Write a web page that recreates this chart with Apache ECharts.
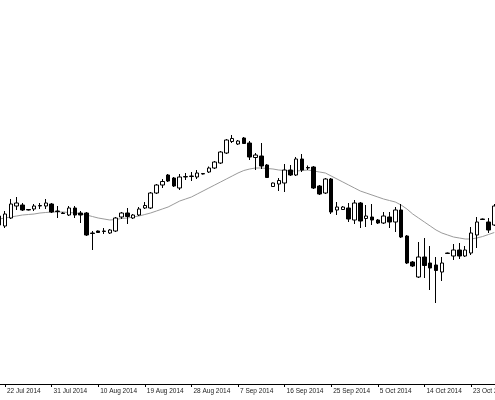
<!DOCTYPE html>
<html>
<head>
<meta charset="utf-8">
<script src="https://cdn.jsdelivr.net/npm/echarts@6/dist/echarts.min.js"></script>
<style>
html,body{margin:0;padding:0;background:#fff;}
#chart{width:495px;height:400px;}
</style>
</head>
<body>
<div id="chart"></div>
<script>
// Dates (trading bars incl. Sundays; first bar partially visible)
var dates = [
"21 Jul 2014","22 Jul 2014","23 Jul 2014","24 Jul 2014","25 Jul 2014","27 Jul 2014","28 Jul 2014","29 Jul 2014","30 Jul 2014","31 Jul 2014",
"1 Aug 2014","3 Aug 2014","4 Aug 2014","5 Aug 2014","6 Aug 2014","7 Aug 2014","8 Aug 2014","10 Aug 2014","11 Aug 2014","12 Aug 2014",
"13 Aug 2014","14 Aug 2014","15 Aug 2014","17 Aug 2014","18 Aug 2014","19 Aug 2014","20 Aug 2014","21 Aug 2014","22 Aug 2014","24 Aug 2014",
"25 Aug 2014","26 Aug 2014","27 Aug 2014","28 Aug 2014","29 Aug 2014","31 Aug 2014","1 Sep 2014","2 Sep 2014","3 Sep 2014","4 Sep 2014",
"5 Sep 2014","7 Sep 2014","8 Sep 2014","9 Sep 2014","10 Sep 2014","11 Sep 2014","12 Sep 2014","14 Sep 2014","15 Sep 2014","16 Sep 2014",
"17 Sep 2014","18 Sep 2014","19 Sep 2014","21 Sep 2014","22 Sep 2014","23 Sep 2014","24 Sep 2014","25 Sep 2014","26 Sep 2014","28 Sep 2014",
"29 Sep 2014","30 Sep 2014","1 Oct 2014","2 Oct 2014","3 Oct 2014","5 Oct 2014","6 Oct 2014","7 Oct 2014","8 Oct 2014","9 Oct 2014",
"10 Oct 2014","12 Oct 2014","13 Oct 2014","14 Oct 2014","15 Oct 2014","16 Oct 2014","17 Oct 2014","19 Oct 2014","20 Oct 2014","21 Oct 2014",
"22 Oct 2014","23 Oct 2014","24 Oct 2014","26 Oct 2014","27 Oct 2014","28 Oct 2014"
];

var opens = [
284,279,283,289,289.5,287.25,287.5,289,289,290,
286.5,285.5,284.5,288,285.5,285.5,275.5,276.5,276.25,275.5,
276.5,283.5,285.5,283,284.5,288,288,295.5,299.5,304.5,
303,298,303.5,303.75,303.5,305,306,308,310.5,315.5,
321.25,320,323,320.5,313.25,314,309.5,298.75,300,300.5,
307,304.5,312.5,308.25,308.5,299,295.5,302.5,287,287.25,
288,282,290.5,282.75,283.5,282,280.5,283.5,281,287,
274,261,253.5,263.5,260.5,259.5,256,265.25,264,267,
264,265.5,274.5,282.5,281,279.5
];
var closes = [
279.5,285,290,290.5,287,287,289,289.25,290.5,286,
286.25,285.25,288,284.5,284.5,274.5,275.25,275.75,276.5,277,
283,285.5,283.75,284.5,287.5,289.25,295.5,299.5,301.25,301.5,
299,303.5,303.75,304,305.5,305.25,308,311,316,322,
322.75,321.5,320.25,313.5,314.5,309,303.25,300.5,301.75,307,
304.5,312.5,307,308,298,295,302.5,286,288.5,288.5,
282.5,290.5,281.5,284,282,280.5,284,281,287,273.5,
260.5,259,263.5,259.25,258,256.75,260.5,265.5,267,264,
267,275.5,281,282.25,277,289
];
var lows = [
278,278,282.5,287,286.5,286.75,286.5,287.5,287.5,285.5,
283,285,284,283,280.5,274,267,275.5,275,275,
276,282.5,280,282.5,284,287.5,287.5,295,298,301,
298.5,297,302,301.5,302.5,304.75,305.5,307.5,310,315,
320.5,319.5,320,312,307,307.5,303,298.5,296.5,296,
304,304,306,307,297.5,294.5,295,285,284.5,287,
281,280,278,278.5,279.5,280,280,278,276,273,
260,258.5,253,253,247,240.5,251.5,265,262,262.5,
263.5,264.5,268,282,275.5,279
];
var highs = [
285.5,286.5,292.5,293.5,290.5,287.5,290,290.5,292.5,290.5,
289,286,289,289,286.5,286,276.5,276.75,278,277.5,
283.5,286,288,285,288.5,291,296,300,302.5,305,
303.5,305,305.5,306,307,305.5,308.75,311.5,316.5,322.5,
324.5,322,323.5,321.5,315.5,320.5,310,300.75,303,310,
309.5,313.5,315,309.25,309,299.5,303,303,291,289,
290.5,292,291,289.5,290,282.5,286,286,288.5,290,
274.5,261.5,271,273,269,263.5,263.5,265.75,270,270.5,
269,278.5,283.5,282.75,283,290
];
// moving average line
var maValues = [
282.5,283,283.5,284,284.5,284.75,285,285.5,285.75,286,
286,286,285.75,285.5,285.25,284.5,283.75,283,282.5,282,
282.25,282.75,283,283.5,284,284.75,285.5,286.5,287.5,288.5,
290,291.5,292.5,293.5,295,296.5,298,299.5,301,302.5,
304,305.5,306.75,307.5,308,308,307.75,307.5,307,306.75,
306.5,306.5,306.75,307,306.5,306,305.5,304,302.5,301,
299.5,298,296.5,295.5,294.5,293.5,292.5,291.75,291,289.5,
287.5,285,283,281,279,277,275.5,274.5,273.5,273,
272.5,272.5,273,273.75,274.75,275.75
];

var candles = dates.map(function(d, i){
  return [opens[i], closes[i], lows[i], highs[i]];
});

var labelEvery = function(index){ return (index - 1) % 8 === 0; };

var chart = echarts.init(document.getElementById('chart'), null, {renderer:'canvas'});
chart.setOption({
  animation: false,
  backgroundColor: '#ffffff',
  grid: {left: -3.74, width: 500.95, top: 0, bottom: 16, containLabel: false, outerBoundsMode: 'none'},
  xAxis: {
    type: 'category',
    data: dates,
    boundaryGap: true,
    axisLine: {show: true, lineStyle: {color: '#000', width: 1}},
    axisTick: {show: true, alignWithLabel: true, interval: labelEvery, length: 3, lineStyle: {color: '#000'}},
    axisLabel: {interval: labelEvery, align: 'left', margin: 4, padding: [0,0,0,2],
      fontSize: 6.5, fontFamily: 'Liberation Sans', color: '#222', hideOverlap: false},
    splitLine: {show: false}
  },
  yAxis: {
    type: 'value', min: 200, max: 392, show: false, scale: true,
    splitLine: {show: false}
  },
  series: [
    {
      type: 'line',
      data: maValues,
      symbol: 'none',
      lineStyle: {color: '#9a9a9a', width: 1},
      z: 1
    },
    {
      type: 'candlestick',
      data: candles,
      barWidth: 4,
      itemStyle: {color: '#ffffff', color0: '#000000', borderColor: '#000000', borderColor0: '#000000', borderWidth: 1},
      z: 2
    }
  ]
});
</script>
</body>
</html>
